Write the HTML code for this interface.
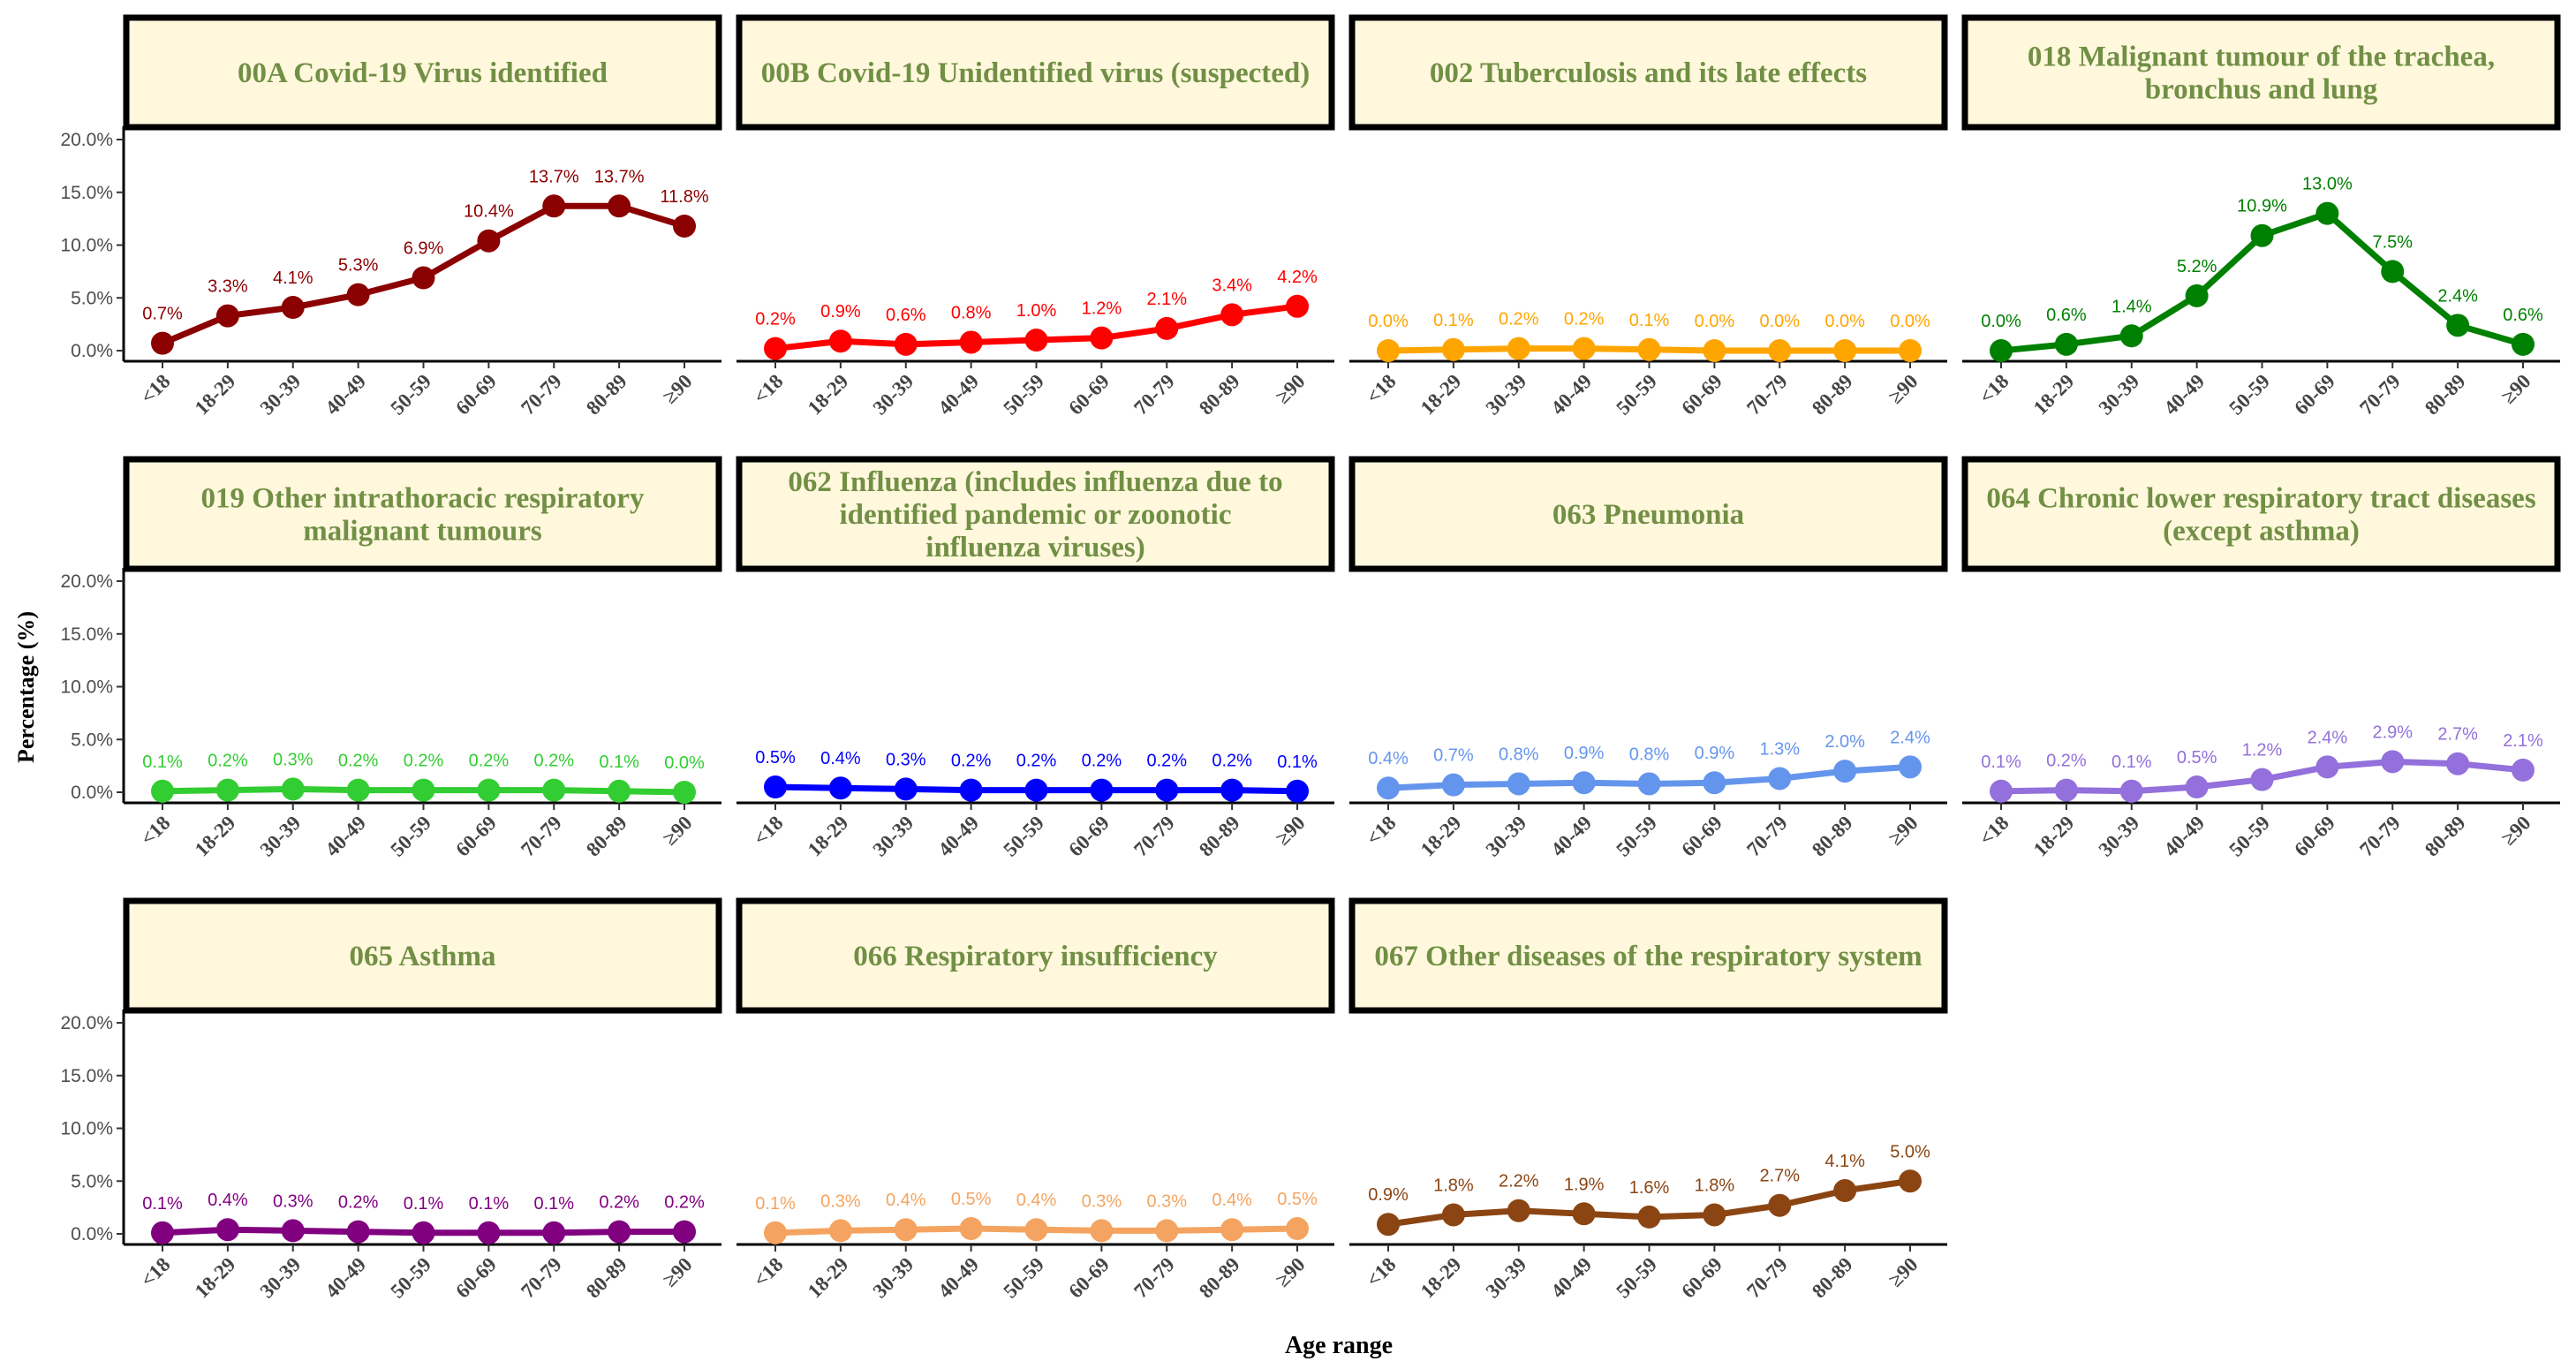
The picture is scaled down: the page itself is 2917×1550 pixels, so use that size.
<!DOCTYPE html>
<html><head><meta charset="utf-8"><style>
html,body{margin:0;padding:0;background:#fff;}
svg{display:block;}
</style></head><body>
<svg id="chart" width="2917" height="1550" viewBox="0 0 2917 1550" xmlns="http://www.w3.org/2000/svg">
<text x="0" y="0" transform="translate(38,778) rotate(-90)" text-anchor="middle" font-family="Liberation Serif, serif" font-weight="bold" font-size="26" fill="#000">Percentage (%)</text>
<text x="1516" y="1532" text-anchor="middle" font-family="Liberation Serif, serif" font-weight="bold" font-size="28" fill="#000">Age range</text>
</svg>
<script>
const categories = ["<18","18-29","30-39","40-49","50-59","60-69","70-79","80-89","≥90"];
const yTicks = [0,5,10,15,20];
const yTickLabels = ["0.0%","5.0%","10.0%","15.0%","20.0%"];
const titles = [
 ["00A Covid-19 Virus identified"],
 ["00B Covid-19 Unidentified virus (suspected)"],
 ["002 Tuberculosis and its late effects"],
 ["018 Malignant tumour of the trachea,","bronchus and lung"],
 ["019 Other intrathoracic respiratory","malignant tumours"],
 ["062 Influenza (includes influenza due to","identified pandemic or zoonotic","influenza viruses)"],
 ["063 Pneumonia"],
 ["064 Chronic lower respiratory tract diseases","(except asthma)"],
 ["065 Asthma"],
 ["066 Respiratory insufficiency"],
 ["067 Other diseases of the respiratory system"]
];
const colors = ["#8B0000","#FF0000","#FFA500","#008000","#32CD32","#0000FF","#6495ED","#9370DB","#800080","#F4A460","#8B4513"];
const s00A = [0.7,3.3,4.1,5.3,6.9,10.4,13.7,13.7,11.8];
const s00B = [0.2,0.9,0.6,0.8,1.0,1.2,2.1,3.4,4.2];
const s002 = [0.0,0.1,0.2,0.2,0.1,0.0,0.0,0.0,0.0];
const s018 = [0.0,0.6,1.4,5.2,10.9,13.0,7.5,2.4,0.6];
const s019 = [0.1,0.2,0.3,0.2,0.2,0.2,0.2,0.1,0.0];
const s062 = [0.5,0.4,0.3,0.2,0.2,0.2,0.2,0.2,0.1];
const s063 = [0.4,0.7,0.8,0.9,0.8,0.9,1.3,2.0,2.4];
const s064 = [0.1,0.2,0.1,0.5,1.2,2.4,2.9,2.7,2.1];
const s065 = [0.1,0.4,0.3,0.2,0.1,0.1,0.1,0.2,0.2];
const s066 = [0.1,0.3,0.4,0.5,0.4,0.3,0.3,0.4,0.5];
const s067 = [0.9,1.8,2.2,1.9,1.6,1.8,2.7,4.1,5.0];
const series = [s00A,s00B,s002,s018,s019,s062,s063,s064,s065,s066,s067];

const NS="http://www.w3.org/2000/svg";
const svg=document.getElementById('chart');
function mk(tag,attrs,parent){const e=document.createElementNS(NS,tag);for(const k in attrs)e.setAttribute(k,attrs[k]);(parent||svg).appendChild(e);return e;}
const PW=677, colStep=694, rowStep=500, left0=140;
series.forEach((vals,p)=>{
  const col=p%4,row=Math.floor(p/4);
  const L=left0+col*colStep, oy=row*rowStep;
  const y0=397+oy, yTop=158+oy, axisY=409+oy;
  const yScale=v=>y0-(v/20)*(y0-yTop);
  const xScale=i=>L+44+i*(591/8);
  const g=mk('g',{});
  
  
  const st=mk('rect',{x:L+3,y:20+oy,width:PW-6,height:124,fill:'#FFF8DC',stroke:'#000','stroke-width':7},g);
  
  
  const lines=titles[p], lh=37, cy=82+oy;
  const t=mk('text',{'font-family':'Liberation Serif, serif','font-weight':'bold','font-size':33,fill:'#718F45','text-anchor':'middle'},g);
  
  
  lines.forEach((ln,k)=>{const ts=mk('tspan',{x:L+PW/2,y:cy+11+(k-(lines.length-1)/2)*lh},t);ts.textContent=ln;});
  const xa=mk('line',{x1:L,x2:L+PW,y1:axisY,y2:axisY,stroke:'#000','stroke-width':3},g);
  
  
  if(col===0){
    const ya=mk('line',{x1:L,x2:L,y1:yTop-15,y2:axisY,stroke:'#000','stroke-width':3},g);
    
    
    yTicks.forEach((v,k)=>{
      mk('line',{x1:L-8,x2:L,y1:yScale(v),y2:yScale(v),stroke:'#333','stroke-width':2},g);
      const tl=mk('text',{x:L-12,y:yScale(v)+7,'text-anchor':'end','font-family':'Liberation Sans, sans-serif','font-size':21,fill:'#4d4d4d'},g);
      
      
      tl.textContent=yTickLabels[k];
    });
  }
  categories.forEach((c,i)=>{
    mk('line',{x1:xScale(i),x2:xScale(i),y1:axisY,y2:axisY+8,stroke:'#333','stroke-width':2},g);
    const xl=mk('text',{x:0,y:0,'text-anchor':'end',transform:`translate(${xScale(i)+10},${axisY+24}) rotate(-45)`,'font-family':'Liberation Serif, serif','font-weight':'bold','font-size':23,fill:'#444'},g);
    
    
    xl.textContent=c;
  });
  const pts=vals.map((v,i)=>xScale(i)+','+yScale(v)).join(' ');
  const line=mk('polyline',{points:pts,fill:'none',stroke:colors[p],'stroke-width':7,'stroke-linejoin':'round'},g);
  
  
  vals.forEach((v,i)=>{
    const c=mk('circle',{cx:xScale(i),cy:yScale(v),r:13,fill:colors[p]},g);
    
    
    const lb=mk('text',{x:xScale(i),y:yScale(v)-27,'text-anchor':'middle','font-family':'Liberation Sans, sans-serif','font-size':20,fill:colors[p]},g);
    
    
    lb.textContent=v.toFixed(1)+'%';
  });
});
</script>
</body></html>
